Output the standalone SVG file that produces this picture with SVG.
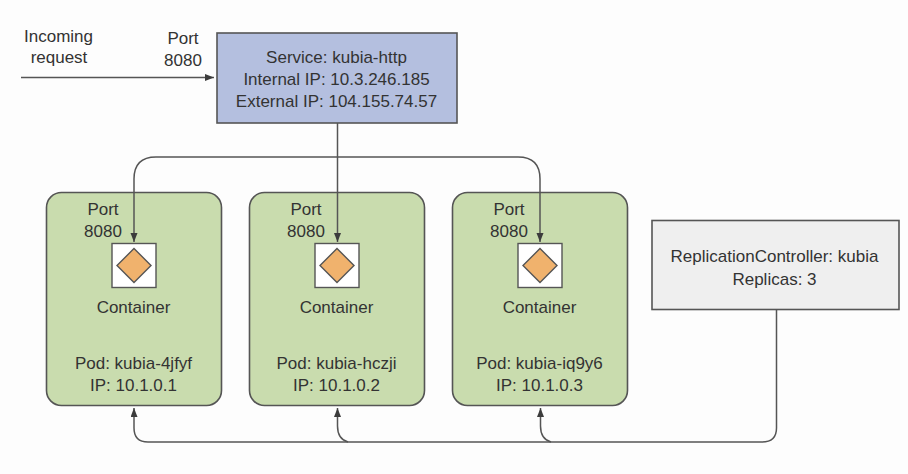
<svg xmlns="http://www.w3.org/2000/svg" width="908" height="474" viewBox="0 0 908 474">
<defs>
<marker id="ah" markerUnits="userSpaceOnUse" markerWidth="10" markerHeight="8" refX="9" refY="3.500" orient="auto-start-reverse"><path d="M0 0L9 3.500L0 7Z" fill="#3c3c3c"/></marker>
</defs>
<style>
text{font-family:"Liberation Sans",Arial,sans-serif;font-size:17px;fill:#333;text-anchor:middle}
.pod{fill:#c9dcae;stroke:#555;stroke-width:1.6}
.c{fill:#fff;stroke:#555;stroke-width:1.4}
.d{fill:#f0b26d;stroke:#555;stroke-width:1.4}
.l{fill:none;stroke:#555;stroke-width:1.5}
</style>
<rect width="908" height="474" fill="#fdfdfd"/>
<g id="incoming"><text x="58.500" y="42">Incoming</text><text x="59" y="63">request</text></g>
<g id="service-port"><text x="183" y="44">Port</text><text x="183" y="66">8080</text></g>
<g id="service">
<rect x="217" y="33" width="240" height="90" fill="#b4bfdf" stroke="#555" stroke-width="1.6"/>
<text x="336.500" y="63">Service: kubia-http</text>
<text x="336.500" y="85">Internal IP: 10.3.246.185</text>
<text x="336.500" y="107">External IP: 104.155.74.57</text>
</g>
<g id="pod1">
<rect class="pod" x="46.500" y="192.500" width="175" height="213" rx="15"/>
<text x="103" y="215">Port</text><text x="103" y="237">8080</text>
<rect class="c" x="112" y="243.500" width="44" height="44"/>
<path class="d" d="M134 248.500L151 265.500L134 282.500L117 265.500Z"/>
<text x="133.500" y="313">Container</text>
<text x="133.500" y="369">Pod: kubia-4jfyf</text>
<text x="133.500" y="391">IP: 10.1.0.1</text>
</g>
<g id="pod2">
<rect class="pod" x="249.500" y="192.500" width="175" height="213" rx="15"/>
<text x="306" y="215">Port</text><text x="306" y="237">8080</text>
<rect class="c" x="315" y="243.500" width="44" height="44"/>
<path class="d" d="M337 248.500L354 265.500L337 282.500L320 265.500Z"/>
<text x="336.500" y="313">Container</text>
<text x="336.500" y="369">Pod: kubia-hczji</text>
<text x="336.500" y="391">IP: 10.1.0.2</text>
</g>
<g id="pod3">
<rect class="pod" x="452.500" y="192.500" width="175" height="213" rx="15"/>
<text x="509" y="215">Port</text><text x="509" y="237">8080</text>
<rect class="c" x="518" y="243.500" width="44" height="44"/>
<path class="d" d="M540 248.500L557 265.500L540 282.500L523 265.500Z"/>
<text x="539.500" y="313">Container</text>
<text x="539.500" y="369">Pod: kubia-iq9y6</text>
<text x="539.500" y="391">IP: 10.1.0.3</text>
</g>
<g id="rc">
<rect x="652" y="220.500" width="247" height="89" fill="#efefef" stroke="#555" stroke-width="1.6"/>
<text x="774.500" y="262">ReplicationController: kubia</text>
<text x="774.500" y="285">Replicas: 3</text>
</g>
<g id="connectors">
<path class="l" d="M21 77.500H214" marker-end="url(#ah)"/>
<path class="l" d="M337.500 123V242" marker-end="url(#ah)"/>
<path class="l" d="M134 242V179Q134 157 156 157H518Q540 157 540 179V242" marker-start="url(#ah)" marker-end="url(#ah)"/>
<path class="l" d="M776.500 310V428Q776.500 442 762 442H148Q134 442 134 428V408" marker-end="url(#ah)"/>
<path class="l" d="M348 442Q337.500 439 337.500 426V408" marker-end="url(#ah)"/>
<path class="l" d="M551 442Q540.500 439 540.500 426V408" marker-end="url(#ah)"/>
</g>
</svg>
